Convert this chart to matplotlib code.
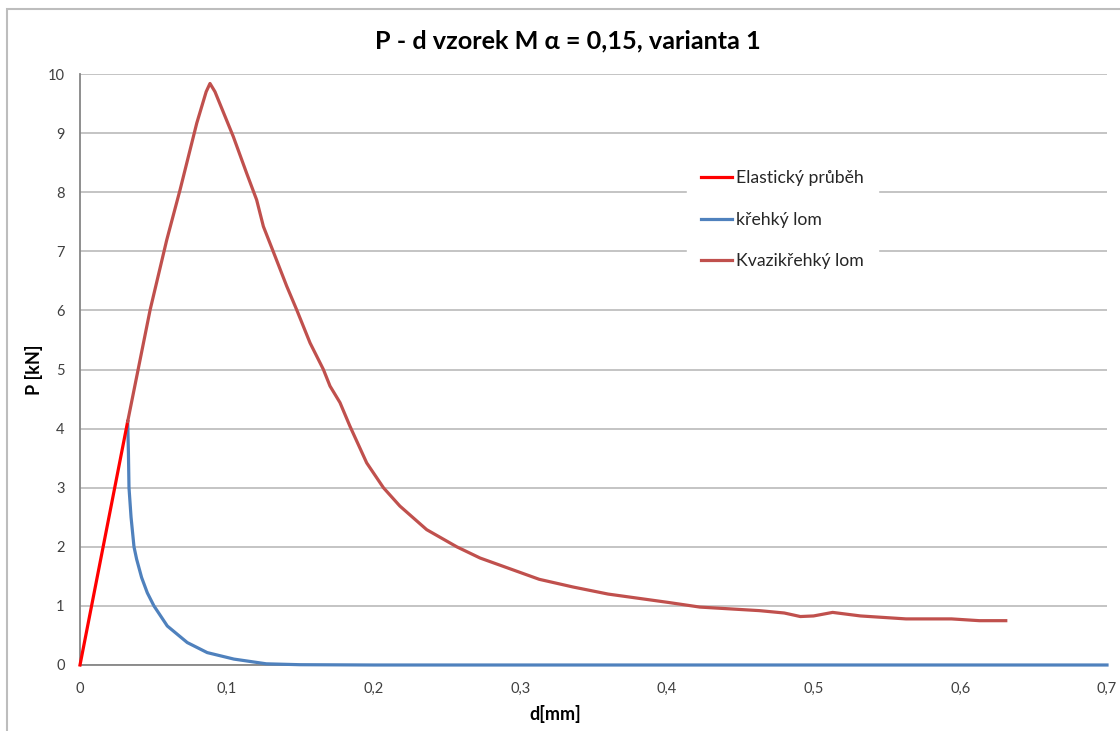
import matplotlib
matplotlib.use('Agg')

import matplotlib.pyplot as plt
import matplotlib.ticker as ticker
from matplotlib.patches import Rectangle

plt.rcParams['font.family'] = ['Lato', 'DejaVu Sans']

# elasticky prubeh
d_elastic = [0.0, 0.0325]
p_elastic = [0.0, 4.12]

# krehky lom
d_brittle = [0.0325, 0.0330, 0.0334, 0.0348, 0.0368, 0.0386, 0.0420, 0.0459, 0.0504,
             0.0595, 0.0731, 0.0867, 0.1049, 0.1270, 0.15, 0.2, 0.3, 0.4, 0.5, 0.6, 0.7]
p_brittle = [4.12, 3.6, 3.0, 2.5, 2.0, 1.79, 1.48, 1.22, 1.0,
             0.66, 0.38, 0.21, 0.10, 0.02, 0.005, 0.0, 0.0, 0.0, 0.0, 0.0, 0.0]

# kvazikrehky lom
d_quasi = [0.0325, 0.0478, 0.0591, 0.0682, 0.0796, 0.0860, 0.0886, 0.0920, 0.1045, 0.1136,
           0.1204, 0.125, 0.1318, 0.1409, 0.1477, 0.1568, 0.1659, 0.1704, 0.1772, 0.1840,
           0.1954, 0.2068, 0.2180, 0.2363, 0.2568, 0.2727, 0.313, 0.336,
           0.360, 0.4006, 0.4225, 0.463, 0.480, 0.491, 0.500, 0.513, 0.532, 0.563,
           0.594, 0.613, 0.631]
p_quasi = [4.12, 6.01, 7.19, 8.04, 9.17, 9.70, 9.84, 9.70, 8.94, 8.32,
           7.87, 7.42, 6.99, 6.41, 6.01, 5.45, 5.0, 4.72, 4.44, 4.04,
           3.42, 3.0, 2.69, 2.29, 2.0, 1.81, 1.45, 1.32,
           1.20, 1.06, 0.98, 0.92, 0.88, 0.82, 0.83, 0.89, 0.83, 0.78,
           0.78, 0.75, 0.75]

fig = plt.figure(figsize=(11.2, 7.31), dpi=100)
fig.patches.append(Rectangle((7 / 1120, -0.1), 1.2, 1 - 9 / 731 + 0.1, transform=fig.transFigure,
                             fill=False, edgecolor='#BDBDBD', linewidth=1.5, zorder=0))
ax = fig.add_axes([80 / 1120, 66 / 731, 1027 / 1120, 591 / 731])

ax.plot(d_elastic, p_elastic, color='#FF0000', lw=2.3, label='Elastický průběh', clip_on=False, zorder=4)
ax.plot(d_brittle, p_brittle, color='#4F81BD', lw=2.3, label='křehký lom', clip_on=False, zorder=3)
ax.plot(d_quasi, p_quasi, color='#C0504D', lw=2.3, label='Kvazikřehký lom', clip_on=False, zorder=5)

ax.set_xlim(0, 0.7)
ax.set_ylim(0, 10)
ax.xaxis.set_major_locator(ticker.MultipleLocator(0.1))
ax.yaxis.set_major_locator(ticker.MultipleLocator(1))
ax.xaxis.set_major_formatter(ticker.FuncFormatter(lambda v, p: ('%g' % round(v, 2)).replace('.', ',')))
ax.yaxis.set_major_formatter(ticker.FuncFormatter(lambda v, p: '%d' % v))
ax.tick_params(length=0, labelsize=10.5, colors='#404040')
ax.tick_params(axis='x', pad=12)
ax.tick_params(axis='y', pad=11)
ax.grid(axis='y', color='#BFBFBF', lw=1.3)
ax.set_axisbelow(True)
for s in ['top', 'right']:
    ax.spines[s].set_visible(False)
for s in ['left', 'bottom']:
    ax.spines[s].set_color('#868686')
    ax.spines[s].set_linewidth(1.3)

ax.set_xlabel('d[mm]', fontsize=13, fontweight='bold')
ax.set_ylabel('P [kN]', fontsize=13, fontweight='bold')
ax.xaxis.set_label_coords(475 / 1027, -(705 - 665) / 591)
ax.yaxis.set_label_coords(-(80 - 43) / 1027, 0.5)
fig.text(568 / 1120, 1 - 41 / 731, 'P - d vzorek M α = 0,15, varianta 1', ha='center', va='center',
         fontsize=18.2, fontweight='bold')

leg = ax.legend(loc='upper left', bbox_to_anchor=(0.582, 0.876), fontsize=12.7, frameon=True,
                facecolor='white', edgecolor='white', framealpha=1, fancybox=False,
                labelspacing=1.45, handlelength=1.75, handletextpad=0.25, borderpad=0.8)
for t in leg.get_texts():
    t.set_color('#262626')

fig.savefig('out.png', dpi=100)
